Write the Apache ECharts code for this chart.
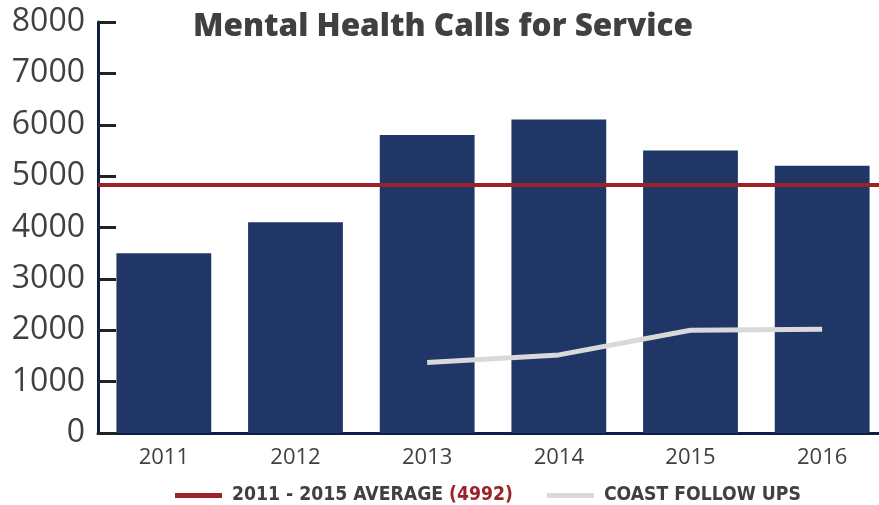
<!DOCTYPE html>
<html>
<head>
<meta charset="utf-8">
<script src="https://cdn.jsdelivr.net/npm/echarts@6/dist/echarts.min.js"></script>
<style>
html, body { margin: 0; padding: 0; background: #fff; overflow: hidden; }
#chart { width: 888px; height: 505px; }
</style>
</head>
<body>
<div id="chart"></div>
<script>
// data
var years = ["2011", "2012", "2013", "2014", "2015", "2016"];
var calls = [3500, 4100, 5800, 6100, 5500, 5200];
var coastFollowUps = [null, null, 1370, 1520, 2000, 2020];
var averageLevel = 4830;
var yTicks = [0, 1000, 2000, 3000, 4000, 5000, 6000, 7000, 8000];

// the plot runs a little past the right edge of the window, as in the original
var chart = echarts.init(document.getElementById("chart"));
chart.setOption({
	animation: false,
	title: {
		text: "Mental Health Calls for Service",
		left: 438,
		textAlign: "center",
		top: 6,
		textStyle: {
			fontFamily: "Open Sans",
			fontWeight: 800,
			fontSize: 31.5,
			color: "#404040"
		}
	},
	grid: {
		left: 98,
		right: 0,
		top: 22,
		bottom: 72,
		containLabel: false
	},
	legend: {
		top: 481,
		left: 170,
		itemGap: 34,
		itemWidth: 47,
		itemHeight: 5,
		icon: "rect",
		data: ["average", "COAST FOLLOW UPS"],
		formatter: function (name) {
			if (name === "average") {
				return "{a|2011 - 2015 AVERAGE }{b|(4992)}";
			}
			return "{a|" + name + "}";
		},
		textStyle: {
			padding: [0, 0, 0, 5],
			rich: {
				a: { fontFamily: "DejaVu Sans Condensed", fontWeight: "bold", fontSize: 19.2, color: "#404040" },
				b: { fontFamily: "DejaVu Sans Condensed", fontWeight: "bold", fontSize: 19.2, color: "#9b2226" }
			}
		}
	},
	xAxis: {
		type: "category",
		data: years,
		axisLine: { lineStyle: { color: "#0d1f45", width: 3 } },
		axisTick: { inside: true, length: 8, lineStyle: { color: "#0d1f45", width: 2 } },
		axisLabel: {
			margin: 14,
			fontFamily: "Open Sans",
			fontSize: 22,
			color: "#404040"
		}
	},
	yAxis: {
		type: "value",
		min: yTicks[0],
		max: yTicks[yTicks.length - 1],
		interval: 1000,
		splitLine: { show: false },
		axisLine: { show: true, lineStyle: { color: "#0d1f45", width: 3 } },
		axisTick: { show: true, inside: true, length: 18, lineStyle: { color: "#222", width: 3 } },
		axisLabel: {
			margin: 13,
			fontFamily: "Open Sans",
			fontSize: 32,
			color: "#404040",
			formatter: function (v) { return String(v); }
		}
	},
	series: [
		{
			name: "calls",
			type: "bar",
			data: calls,
			barWidth: "72%",
			itemStyle: { color: "#1f3666" },
			z: 1
		},
		{
			name: "average",
			type: "line",
			data: [],
			itemStyle: { color: "#9b2226" },
			lineStyle: { color: "#9b2226" },
			markLine: {
				silent: true,
				symbol: "none",
				label: { show: false },
				lineStyle: { color: "#9b2226", width: 4, type: "solid" },
				data: [{ yAxis: averageLevel }]
			}
		},
		{
			name: "COAST FOLLOW UPS",
			type: "line",
			data: coastFollowUps,
			showSymbol: false,
			symbol: "none",
			itemStyle: { color: "#d9d9d9" },
			lineStyle: { color: "#d9d9d9", width: 5 }
		}
	]
});
</script>
</body>
</html>
